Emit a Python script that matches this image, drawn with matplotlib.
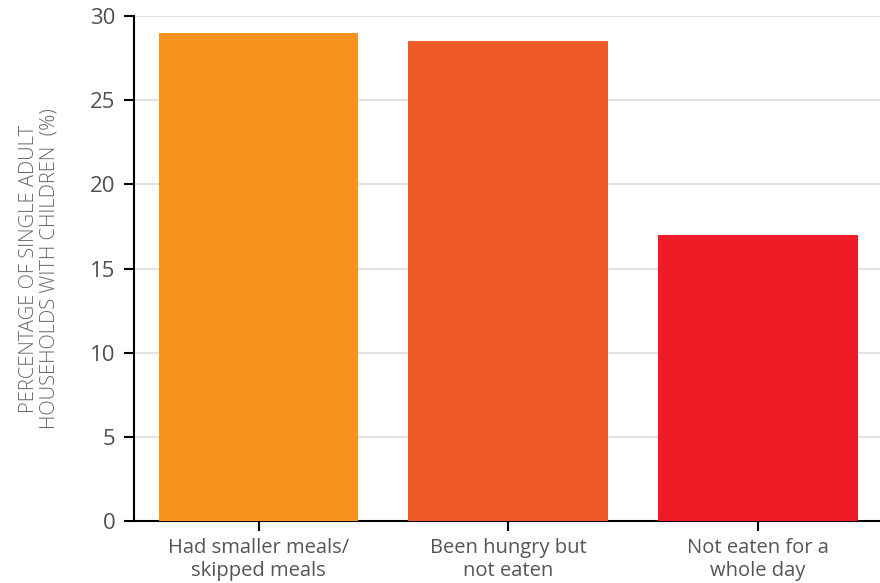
import matplotlib
matplotlib.use('Agg')
import matplotlib.pyplot as plt

# dados
categorias = ["Had smaller meals/\nskipped meals", "Been hungry but\nnot eaten", "Not eaten for a\nwhole day"]
valores = [29.0, 28.5, 17.0]
cores = ["#F7931E", "#F05A28", "#ED1C24"]
ticks_y = [0, 5, 10, 15, 20, 25, 30]

plt.rcParams['font.family'] = ['Open Sans', 'DejaVu Sans']

fig = plt.figure(figsize=(8.8, 5.83), dpi=100)
ax = fig.add_axes([0.152, 0.106, 0.848, 0.8666])

x = list(range(len(categorias)))
ax.bar(x, valores, width=0.8, color=cores, zorder=3)

ax.set_xlim(-0.5, 2.49)
ax.set_ylim(0, 30)
ax.set_xticks(x)
ax.set_xticklabels(categorias, fontsize=14.5, color="#555555", linespacing=1.2)
ax.set_yticks(ticks_y)
ax.set_yticklabels([str(t) for t in ticks_y], fontsize=16, color="#505050")

ax.yaxis.grid(True, color="#DDDDDD", linewidth=1.2, zorder=0)
ax.set_axisbelow(True)

for s in ["top", "right"]:
    ax.spines[s].set_visible(False)
ax.spines["left"].set_linewidth(1.5)
ax.spines["bottom"].set_linewidth(1.5)
ax.tick_params(axis='y', length=7, width=1.5, pad=6)
ax.tick_params(axis='x', length=7, width=1.5, pad=5)

ax.set_ylabel("PERCENTAGE OF SINGLE ADULT\nHOUSEHOLDS WITH CHILDREN  (%)",
              fontsize=14.5, color="#666666", labelpad=22, linespacing=1.05,
              fontweight='light')

fig.savefig("out.png", dpi=100)
